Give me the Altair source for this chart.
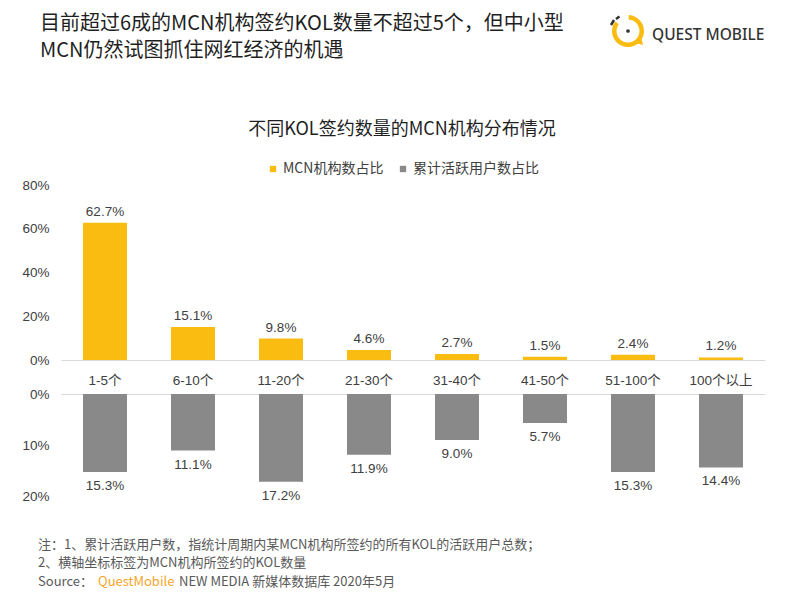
import altair as alt
import pandas as pd

# ---------------- data ----------------
categories = ["1-5个", "6-10个", "11-20个", "21-30个", "31-40个", "41-50个", "51-100个", "100个以上"]
mcn_share = [62.7, 15.1, 9.8, 4.6, 2.7, 1.5, 2.4, 1.2]
user_share = [15.3, 11.1, 17.2, 11.9, 9.0, 5.7, 15.3, 14.4]
series_names = ["MCN机构数占比", "累计活跃用户数占比"]
top_ticks = [0, 20, 40, 60, 80]
bottom_ticks = [0, 10, 20]

title_lines = ["目前超过6成的MCN机构签约KOL数量不超过5个，但中小型", "MCN仍然试图抓住网红经济的机遇"]
subtitle = ["不同KOL签约数量的MCN机构分布情况"]
logo_text = ["QUEST MOBILE"]
notes = ["注：1、累计活跃用户数，指统计周期内某MCN机构所签约的所有KOL的活跃用户总数；",
         "2、横轴坐标标签为MCN机构所签约的KOL数量"]
source_parts = ["Source：", "QuestMobile", "NEW MEDIA 新媒体数据库 2020年5月"]

# ---------------- style ----------------
W, H = 786, 586
YELLOW = "#FBBC12"
GRAY = "#898989"
ORANGE = "#F5A52A"
CJK = "Noto Sans CJK SC"
NUM = "Liberation Sans, Noto Sans CJK SC"
TXT = "#404040"

top_df = pd.DataFrame({"cat": categories, "v": mcn_share, "series": series_names[0]})
bot_df = pd.DataFrame({"cat": categories, "v": user_share, "series": series_names[1]})

x_scale = alt.Scale(domain=categories, range=[53, 757], paddingInner=0.5, paddingOuter=0.25)
color_enc = alt.Color(
    "series:N",
    scale=alt.Scale(domain=series_names, range=[YELLOW, GRAY]),
    legend=alt.Legend(
        orient="none", legendX=258, legendY=154, direction="horizontal", title=None,
        symbolType="square", symbolSize=40, symbolStrokeWidth=0, labelFont=CJK,
        labelFontSize=14, labelColor=TXT, columnPadding=12, labelOffset=3, padding=0,
    ),
)

x_top = alt.X("cat:N", scale=x_scale, sort=categories, title=None,
              axis=alt.Axis(orient="bottom", offset=-234, ticks=False, tickSize=0,
                            domainColor="#D9D9D9", domainWidth=1, grid=False, labelAngle=0,
                            labelFont=NUM, labelFontSize=13.5, labelColor=TXT,
                            labelBaseline="middle", labelPadding=20))
x_bot = alt.X("cat:N", scale=x_scale, sort=categories, title=None,
              axis=alt.Axis(orient="top", offset=-386, ticks=False, tickSize=0, labels=False,
                            domainColor="#D9D9D9", domainWidth=1, grid=False))

y_top = alt.Y("v:Q", title=None,
              scale=alt.Scale(domain=[0, 80], range=[352, 177], nice=False, zero=False),
              axis=alt.Axis(orient="left", offset=-44, values=top_ticks, labelExpr="datum.value + '%'",
                            domain=False, ticks=False, tickSize=0, grid=False, labelPadding=3,
                            labelFont=NUM, labelFontSize=13.5, labelColor=TXT))
y_bot = alt.Y("v:Q", title=None,
              scale=alt.Scale(domain=[0, 20], range=[386, 488], nice=False, zero=False),
              axis=alt.Axis(orient="left", offset=-44, values=bottom_ticks, labelExpr="datum.value + '%'",
                            domain=False, ticks=False, tickSize=0, grid=False, labelPadding=3,
                            labelFont=NUM, labelFontSize=13.5, labelColor=TXT))

top_base = alt.Chart(top_df).transform_calculate(label="format(datum.v, '.1f') + '%'").encode(x=x_top, y=y_top)
top_layer = alt.layer(
    top_base.mark_bar().encode(color=color_enc),
    top_base.mark_text(dy=-11, baseline="middle", font=NUM, fontSize=13.5, color=TXT).encode(text="label:N"),
)
bot_base = alt.Chart(bot_df).transform_calculate(label="format(datum.v, '.1f') + '%'").encode(x=x_bot, y=y_bot)
bot_layer = alt.layer(
    bot_base.mark_bar().encode(color=color_enc),
    bot_base.mark_text(dy=14, baseline="middle", font=NUM, fontSize=13.5, color=TXT).encode(text="label:N"),
)


def text_layer(texts, x, y, size, color="#1F1F1F", align="left", font=CJK, weight="normal"):
    return alt.Chart(pd.DataFrame({"t": texts})).mark_text(
        align=align, baseline="middle", fontSize=size, font=font, color=color, fontWeight=weight
    ).encode(x=alt.value(x), y=alt.value(y), text="t:N")


one = pd.DataFrame({"a": [0]})
annotations = [
    text_layer([title_lines[0]], 32, 16, 20),
    text_layer([title_lines[1]], 32, 43, 20),
    text_layer(subtitle, 394, 122, 18, align="center"),
    text_layer(logo_text, 644, 27, 15.5, color="#333333", font="Noto Sans", weight=500),
    # logo icon
    alt.Chart(one).mark_arc(color=YELLOW, radius=16, radius2=11.5, theta=0.05, theta2=5.35)
    .encode(x=alt.value(620), y=alt.value(23)),
    alt.Chart(one).mark_point(shape="triangle-right", angle=45, size=45, filled=True, color=YELLOW, opacity=1)
    .encode(x=alt.value(633), y=alt.value(35)),
    alt.Chart(one).mark_point(shape="circle", size=14, filled=True, color="#333333", opacity=1)
    .encode(x=alt.value(620), y=alt.value(23)),
    alt.Chart(one).mark_rule(color="#333333", strokeWidth=2.5)
    .encode(x=alt.value(603), x2=alt.value(606), y=alt.value(17), y2=alt.value(12)),
    alt.Chart(one).mark_rule(color="#333333", strokeWidth=2.5)
    .encode(x=alt.value(608), x2=alt.value(611.5), y=alt.value(11), y2=alt.value(8.5)),
    # footnotes
    text_layer([notes[0]], 30, 537, 13, color="#595959"),
    text_layer([notes[1]], 30, 555, 13, color="#595959"),
    text_layer([source_parts[0]], 30, 574, 13, color="#595959"),
    text_layer([source_parts[1]], 90, 574, 13, color=ORANGE),
    text_layer([source_parts[2]], 171, 574, 13, color="#595959"),
]

chart = (
    alt.layer(top_layer, bot_layer, *annotations)
    .resolve_scale(y="independent")
    .resolve_axis(x="independent", y="independent")
    .properties(width=W, height=H, autosize=alt.AutoSizeParams(type="none"), padding=0, background="white")
    .configure_view(stroke=None)
)

chart.save("out.html", embed_options={"renderer": "svg", "actions": False})
